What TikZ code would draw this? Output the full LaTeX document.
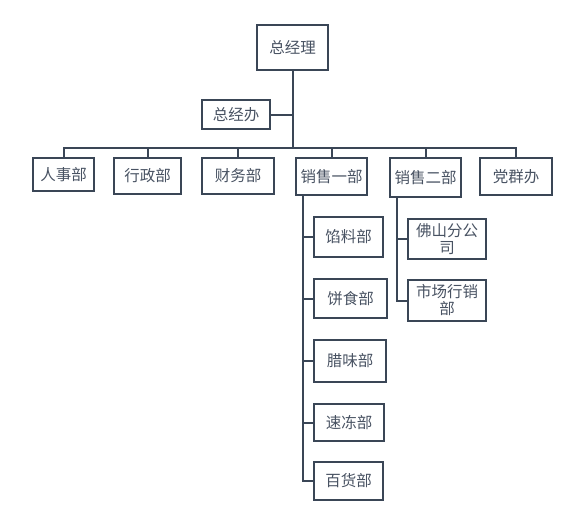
\documentclass[tikz,border=0pt]{standalone}
\usepackage{fontspec}
\setmainfont{Noto Sans CJK SC}
\definecolor{linec}{RGB}{58,70,86}
\definecolor{textc}{RGB}{72,82,98}
\tikzset{
  box/.style={draw=linec, line width=2pt, inner sep=0pt, text=textc,
    font=\fontsize{15.5pt}{17pt}\selectfont, align=center},
  conn/.style={draw=linec, line width=2pt},
}
\begin{document}
\begin{tikzpicture}[x=1pt,y=-1pt]
\useasboundingbox (0,0) rectangle (588,507);
% top
\node[box, minimum width=71pt, minimum height=45pt] (gm) at (292.5,47.5) {总经理};
\node[box, minimum width=68pt, minimum height=29pt] (office) at (236,114.5) {总经办};
% level 2
\node[box, minimum width=61pt, minimum height=33pt] (hr) at (63.5,174.5) {人事部};
\node[box, minimum width=67pt, minimum height=36pt] (admin) at (147.5,176) {行政部};
\node[box, minimum width=72pt, minimum height=36pt] (fin) at (238,176) {财务部};
\node[box, minimum width=71pt, minimum height=37pt] (s1) at (331.5,176.5) {销售一部};
\node[box, minimum width=71pt, minimum height=39pt] (s2) at (425.5,177.5) {销售二部};
\node[box, minimum width=72pt, minimum height=37pt] (party) at (516,176.5) {党群办};
% sales 1 children
\node[box, minimum width=69pt, minimum height=40pt] (xl) at (348.5,237) {馅料部};
\node[box, minimum width=73pt, minimum height=39pt] (bs) at (350.5,298.5) {饼食部};
\node[box, minimum width=72pt, minimum height=42pt] (lw) at (350,361) {腊味部};
\node[box, minimum width=70pt, minimum height=37pt] (sd) at (349,422.5) {速冻部};
\node[box, minimum width=69pt, minimum height=38pt] (bh) at (348.5,481) {百货部};
% sales 2 children
\node[box, minimum width=78pt, minimum height=40pt] (fs) at (447,239) {佛山分公\\司};
\node[box, minimum width=78pt, minimum height=41pt] (sc) at (447,300.5) {市场行销\\部};
% connectors
\coordinate (bar) at (293,148);
\coordinate (t1) at (303,0);
\coordinate (t2) at (397,0);
\draw[conn] (gm.south -| bar) -- (bar);
\draw[conn] (office.east) -- (office.east -| bar);
\draw[conn] (bar) -| (hr.north);
\draw[conn] (bar) -| (admin.north);
\draw[conn] (bar) -| (fin.north);
\draw[conn] (bar) -| (s1.north);
\draw[conn] (bar) -| (s2.north);
\draw[conn] (bar) -| (party.north);
\draw[conn] (s1.south -| t1) |- (xl.west);
\draw[conn] (s1.south -| t1) |- (bs.west);
\draw[conn] (s1.south -| t1) |- (lw.west);
\draw[conn] (s1.south -| t1) |- (sd.west);
\draw[conn] (s1.south -| t1) |- (bh.west);
\draw[conn] (s2.south -| t2) |- (fs.west);
\draw[conn] (s2.south -| t2) |- (sc.west);
\end{tikzpicture}
\end{document}
